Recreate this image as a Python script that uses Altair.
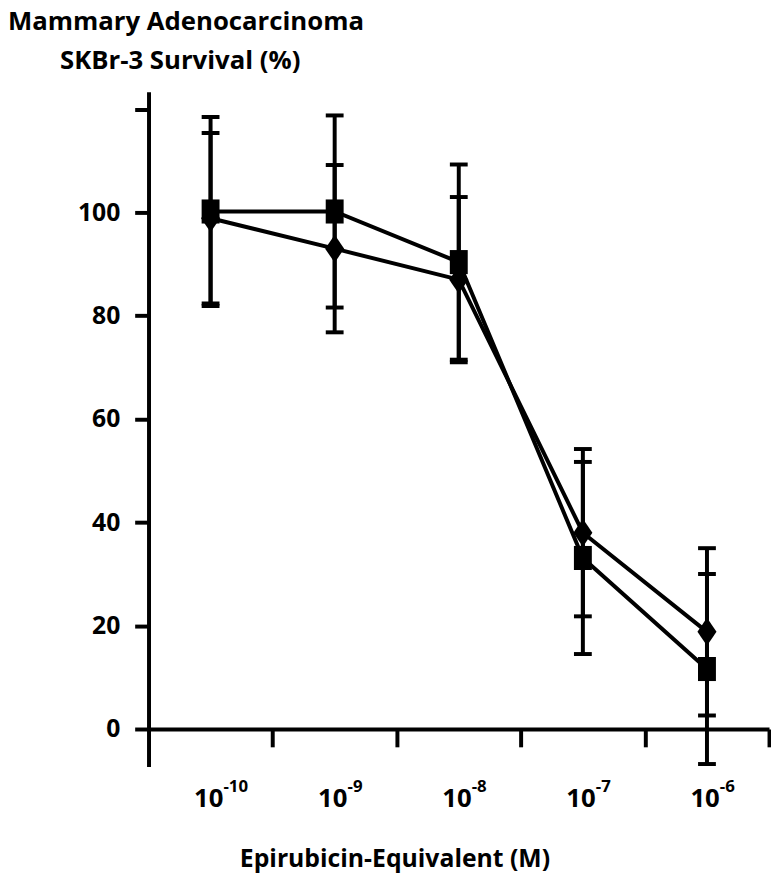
import altair as alt
import pandas as pd

# ---- data ----
exponents = [-10, -9, -8, -7, -6]
exp_labels = ["-10", "-9", "-8", "-7", "-6"]
series_names = ["Series 1", "Series 2"]
square_mean = [100.2, 100.2, 90.4, 33.1, 11.6]
square_err = [18.3, 18.6, 18.9, 18.6, 18.4]
diamond_mean = [98.9, 93.0, 87.0, 38.0, 18.8]
diamond_err = [16.5, 16.2, 16.0, 16.2, 16.2]
y_ticks = [0, 20, 40, 60, 80, 100, 120]
x_boundaries = [-9.5, -8.5, -7.5, -6.5, -5.5]

title_line1 = "Mammary Adenocarcinoma"
title_line2 = "SKBr-3 Survival (%)"
x_title = "Epirubicin-Equivalent (M)"

rows = []
for name, means, errs in [(series_names[0], square_mean, square_err),
                          (series_names[1], diamond_mean, diamond_err)]:
    for e, m, s in zip(exponents, means, errs):
        rows.append({"series": name, "exp": e, "mean": m, "lo": m - s, "hi": m + s})
df = pd.DataFrame(rows)
lab_df = pd.DataFrame({"exp": exponents, "base": ["10"] * len(exponents), "sup": exp_labels})

FONT = "Open Sans"
W, H = 627, 682

xscale = alt.Scale(domain=[-10.5, -5.5], nice=False, zero=False)
yscale = alt.Scale(domain=[-7.3, 123.4], nice=False, zero=False)

xaxis = alt.Axis(values=x_boundaries, labels=False, title=None, grid=False,
                 tickSize=18, tickWidth=4, tickColor="black",
                 domainWidth=4, domainColor="black", offset=-38)
yaxis = alt.Axis(values=y_ticks, title=None, grid=False,
                 labelExpr="datum.value == 120 ? '' : datum.label",
                 labelFont=FONT, labelFontWeight="bold", labelFontSize=25,
                 labelColor="black", labelPadding=15,
                 tickSize=14, tickWidth=4, tickColor="black",
                 domainWidth=4, domainColor="black")

base = alt.Chart(df)

lines = base.mark_line(color="black", strokeWidth=4).encode(
    x=alt.X("exp:Q", scale=xscale, axis=xaxis),
    y=alt.Y("mean:Q", scale=yscale, axis=yaxis),
    detail="series:N",
)

bars = base.mark_rule(color="black", strokeWidth=4).encode(
    x=alt.X("exp:Q", scale=xscale),
    y=alt.Y("lo:Q", scale=yscale),
    y2="hi:Q",
)

caps = base.transform_fold(["lo", "hi"], as_=["end", "capval"]).mark_tick(
    color="black", orient="horizontal", size=18, thickness=4, opacity=1
).encode(
    x=alt.X("exp:Q", scale=xscale),
    y=alt.Y("capval:Q", scale=yscale),
)

sq_path = "M-0.64,-0.86L0.64,-0.86L0.64,0.86L-0.64,0.86Z"
di_path = "M0,-1L0.68,0L0,1L-0.68,0Z"
points = base.mark_point(filled=True, color="black", opacity=1, size=800).encode(
    x=alt.X("exp:Q", scale=xscale),
    y=alt.Y("mean:Q", scale=yscale),
    shape=alt.Shape("series:N", scale=alt.Scale(domain=series_names, range=[sq_path, di_path]), legend=None),
)

lab_base = alt.Chart(lab_df).mark_text(
    font=FONT, fontWeight="bold", fontSize=26, color="black", align="right", baseline="alphabetic", dx=13
).encode(x=alt.X("exp:Q", scale=xscale), y=alt.value(723), text="base:N")
lab_sup = alt.Chart(lab_df).mark_text(
    font=FONT, fontWeight="bold", fontSize=17, color="black", align="left", baseline="alphabetic", dx=13
).encode(x=alt.X("exp:Q", scale=xscale), y=alt.value(708), text="sup:N")

def text_layer(txt, x, y, size, align):
    return alt.Chart(pd.DataFrame({"t": [txt]})).mark_text(
        font=FONT, fontWeight="bold", fontSize=size, color="black", align=align, baseline="alphabetic"
    ).encode(x=alt.value(x), y=alt.value(y), text="t:N")

t1 = text_layer(title_line1, -142, -62, 26, "left")
t2 = text_layer(title_line2, 32, -23, 26, "center")
tx = text_layer(x_title, 249, 783, 25, "center")

chart = alt.layer(lines, bars, caps, points, lab_base, lab_sup, t1, t2, tx).properties(
    width=W, height=H,
    autosize=alt.AutoSizeParams(type="none"),
    padding={"left": 142, "top": 80, "right": 2, "bottom": 109},
    background="white",
).configure_view(stroke=None)

chart.save("out.html", embed_options={"renderer": "svg", "actions": False})
